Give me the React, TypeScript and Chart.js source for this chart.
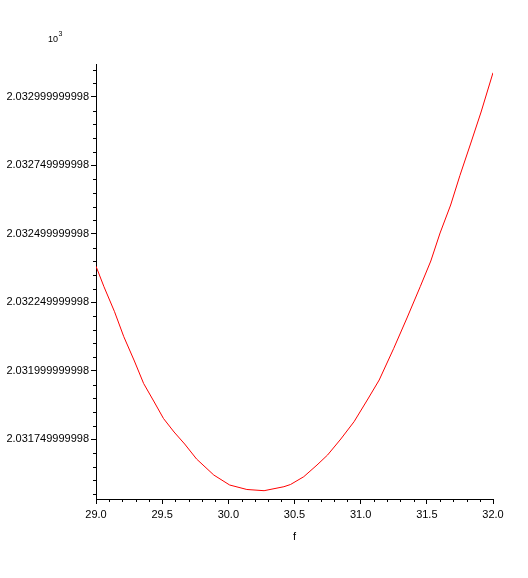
import React, { useEffect, useRef } from "react";
import { Chart, registerables } from "chart.js";

Chart.register(...registerables);

// ---- data ----
const fValues = [
  29.0, 29.06, 29.14, 29.21, 29.29, 29.36, 29.44, 29.51, 29.59, 29.67, 29.76,
  29.89, 30.01, 30.14, 30.27, 30.42, 30.47, 30.57, 30.67, 30.75, 30.85, 30.95,
  31.05, 31.14, 31.25, 31.35, 31.45, 31.53, 31.6, 31.68, 31.75, 31.83, 31.91,
  32.0,
];
const curveValues = [
  2.032382, 2.0323073, 2.032216, 2.0321247, 2.0320359, 2.0319538, 2.0318862,
  2.031826, 2.0317766, 2.0317328, 2.031678, 2.0316196, 2.0315831, 2.0315667,
  2.0315623, 2.0315769, 2.0315849, 2.0316134, 2.0316561, 2.0316927, 2.0317511,
  2.0318143, 2.0318935, 2.0319665, 2.0320823, 2.032193, 2.0323073, 2.0324011,
  2.0325034, 2.0326056, 2.0327133, 2.0328284, 2.0329452, 2.0330887,
];

const xTickValues = [29.0, 29.5, 30.0, 30.5, 31.0, 31.5, 32.0];
const xTickLabels = ["29.0", "29.5", "30.0", "30.5", "31.0", "31.5", "32.0"];
const xMinorTicks = [
  29.1, 29.2, 29.3, 29.4, 29.6, 29.7, 29.8, 29.9, 30.1, 30.2, 30.3, 30.4, 30.6,
  30.7, 30.8, 30.9, 31.1, 31.2, 31.3, 31.4, 31.6, 31.7, 31.8, 31.9,
];

const yTickValues = [
  2.031749999998, 2.031999999998, 2.032249999998, 2.032499999998,
  2.032749999998, 2.032999999998,
];
const yTickLabels = [
  "2.031749999998", "2.031999999998", "2.032249999998", "2.032499999998",
  "2.032749999998", "2.032999999998",
];
const yMinorTicks = [
  2.03155, 2.0316, 2.03165, 2.0317, 2.0318, 2.03185, 2.0319, 2.03195, 2.03205,
  2.0321, 2.03215, 2.0322, 2.0323, 2.03235, 2.0324, 2.03245, 2.03255, 2.0326,
  2.03265, 2.0327, 2.0328, 2.03285, 2.0329, 2.03295, 2.03305, 2.0331,
];

const xMin = 29;
const xMax = 32;
const yMin = 2.031532;
const yMax = 2.0331205;

const xTitle = "f";
const multiplierBase = "10";
const multiplierExp = "3";

const FONT = "'Liberation Sans', Arial, sans-serif";

const decorPlugin = {
  id: "decor",
  afterDraw(chart: any) {
    const ctx = chart.ctx;
    const xs = chart.scales.x;
    const ys = chart.scales.y;
    const area = chart.chartArea;
    ctx.save();
    ctx.strokeStyle = "#000";
    ctx.lineWidth = 1;
    ctx.beginPath();
    for (const v of xMinorTicks) {
      const px = Math.round(xs.getPixelForValue(v)) + 0.5;
      ctx.moveTo(px, area.bottom);
      ctx.lineTo(px, area.bottom + 3);
    }
    for (const v of yMinorTicks) {
      const py = Math.round(ys.getPixelForValue(v)) + 0.5;
      ctx.moveTo(area.left, py);
      ctx.lineTo(area.left - 3, py);
    }
    ctx.stroke();

    ctx.fillStyle = "#000";
    ctx.textBaseline = "alphabetic";
    ctx.textAlign = "left";
    ctx.font = `9px ${FONT}`;
    ctx.fillText(multiplierBase, 48, 42);
    const w = ctx.measureText(multiplierBase).width;
    ctx.font = `7px ${FONT}`;
    ctx.fillText(multiplierExp, 48 + w + 0.5, 36);
    ctx.restore();
  },
};

export default function App() {
  const ref = useRef<HTMLCanvasElement | null>(null);

  useEffect(() => {
    if (!ref.current) return;
    const chart = new Chart(ref.current, {
      type: "line",
      data: {
        datasets: [
          {
            data: fValues.map((f, i) => ({ x: f, y: curveValues[i] })),
            borderColor: "#ff0000",
            borderWidth: 1,
            pointRadius: 0,
            tension: 0,
            fill: false,
          },
        ],
      },
      options: {
        animation: false,
        responsive: false,
        layout: { padding: { left: 0, right: 35, top: 64, bottom: 0 } },
        plugins: {
          legend: { display: false },
          tooltip: { enabled: false },
        },
        scales: {
          x: {
            type: "linear",
            min: xMin,
            max: xMax,
            afterFit: (scale: any) => {
              scale.height = 79;
            },
            afterBuildTicks: (scale: any) => {
              scale.ticks = xTickValues.map((v) => ({ value: v }));
            },
            ticks: {
              autoSkip: false,
              maxRotation: 0,
              padding: 4,
              color: "#000",
              font: { family: FONT, size: 11 },
              callback: (_v: any, i: number) => xTickLabels[i],
            },
            grid: {
              drawOnChartArea: false,
              drawTicks: true,
              tickLength: 5,
              tickColor: "#000",
              tickWidth: 1,
            },
            border: { display: true, color: "#000", width: 1 },
            title: {
              display: true,
              text: xTitle,
              color: "#000",
              font: { family: FONT, size: 11 },
              padding: { top: 0, bottom: 34 },
            },
          },
          y: {
            type: "linear",
            min: yMin,
            max: yMax,
            afterFit: (scale: any) => {
              scale.width = 96;
            },
            afterBuildTicks: (scale: any) => {
              scale.ticks = yTickValues.map((v) => ({ value: v }));
            },
            ticks: {
              autoSkip: false,
              padding: 2,
              color: "#000",
              font: { family: FONT, size: 11 },
              callback: (_v: any, i: number) => yTickLabels[i],
            },
            grid: {
              drawOnChartArea: false,
              drawTicks: true,
              tickLength: 5,
              tickColor: "#000",
              tickWidth: 1,
            },
            border: { display: true, color: "#000", width: 1 },
          },
        },
      },
      plugins: [decorPlugin],
    } as any);
    return () => chart.destroy();
  }, []);

  return (
    <canvas
      ref={ref}
      width={528}
      height={578}
      style={{ position: "absolute", left: 0, top: 0, display: "block" }}
    />
  );
}
